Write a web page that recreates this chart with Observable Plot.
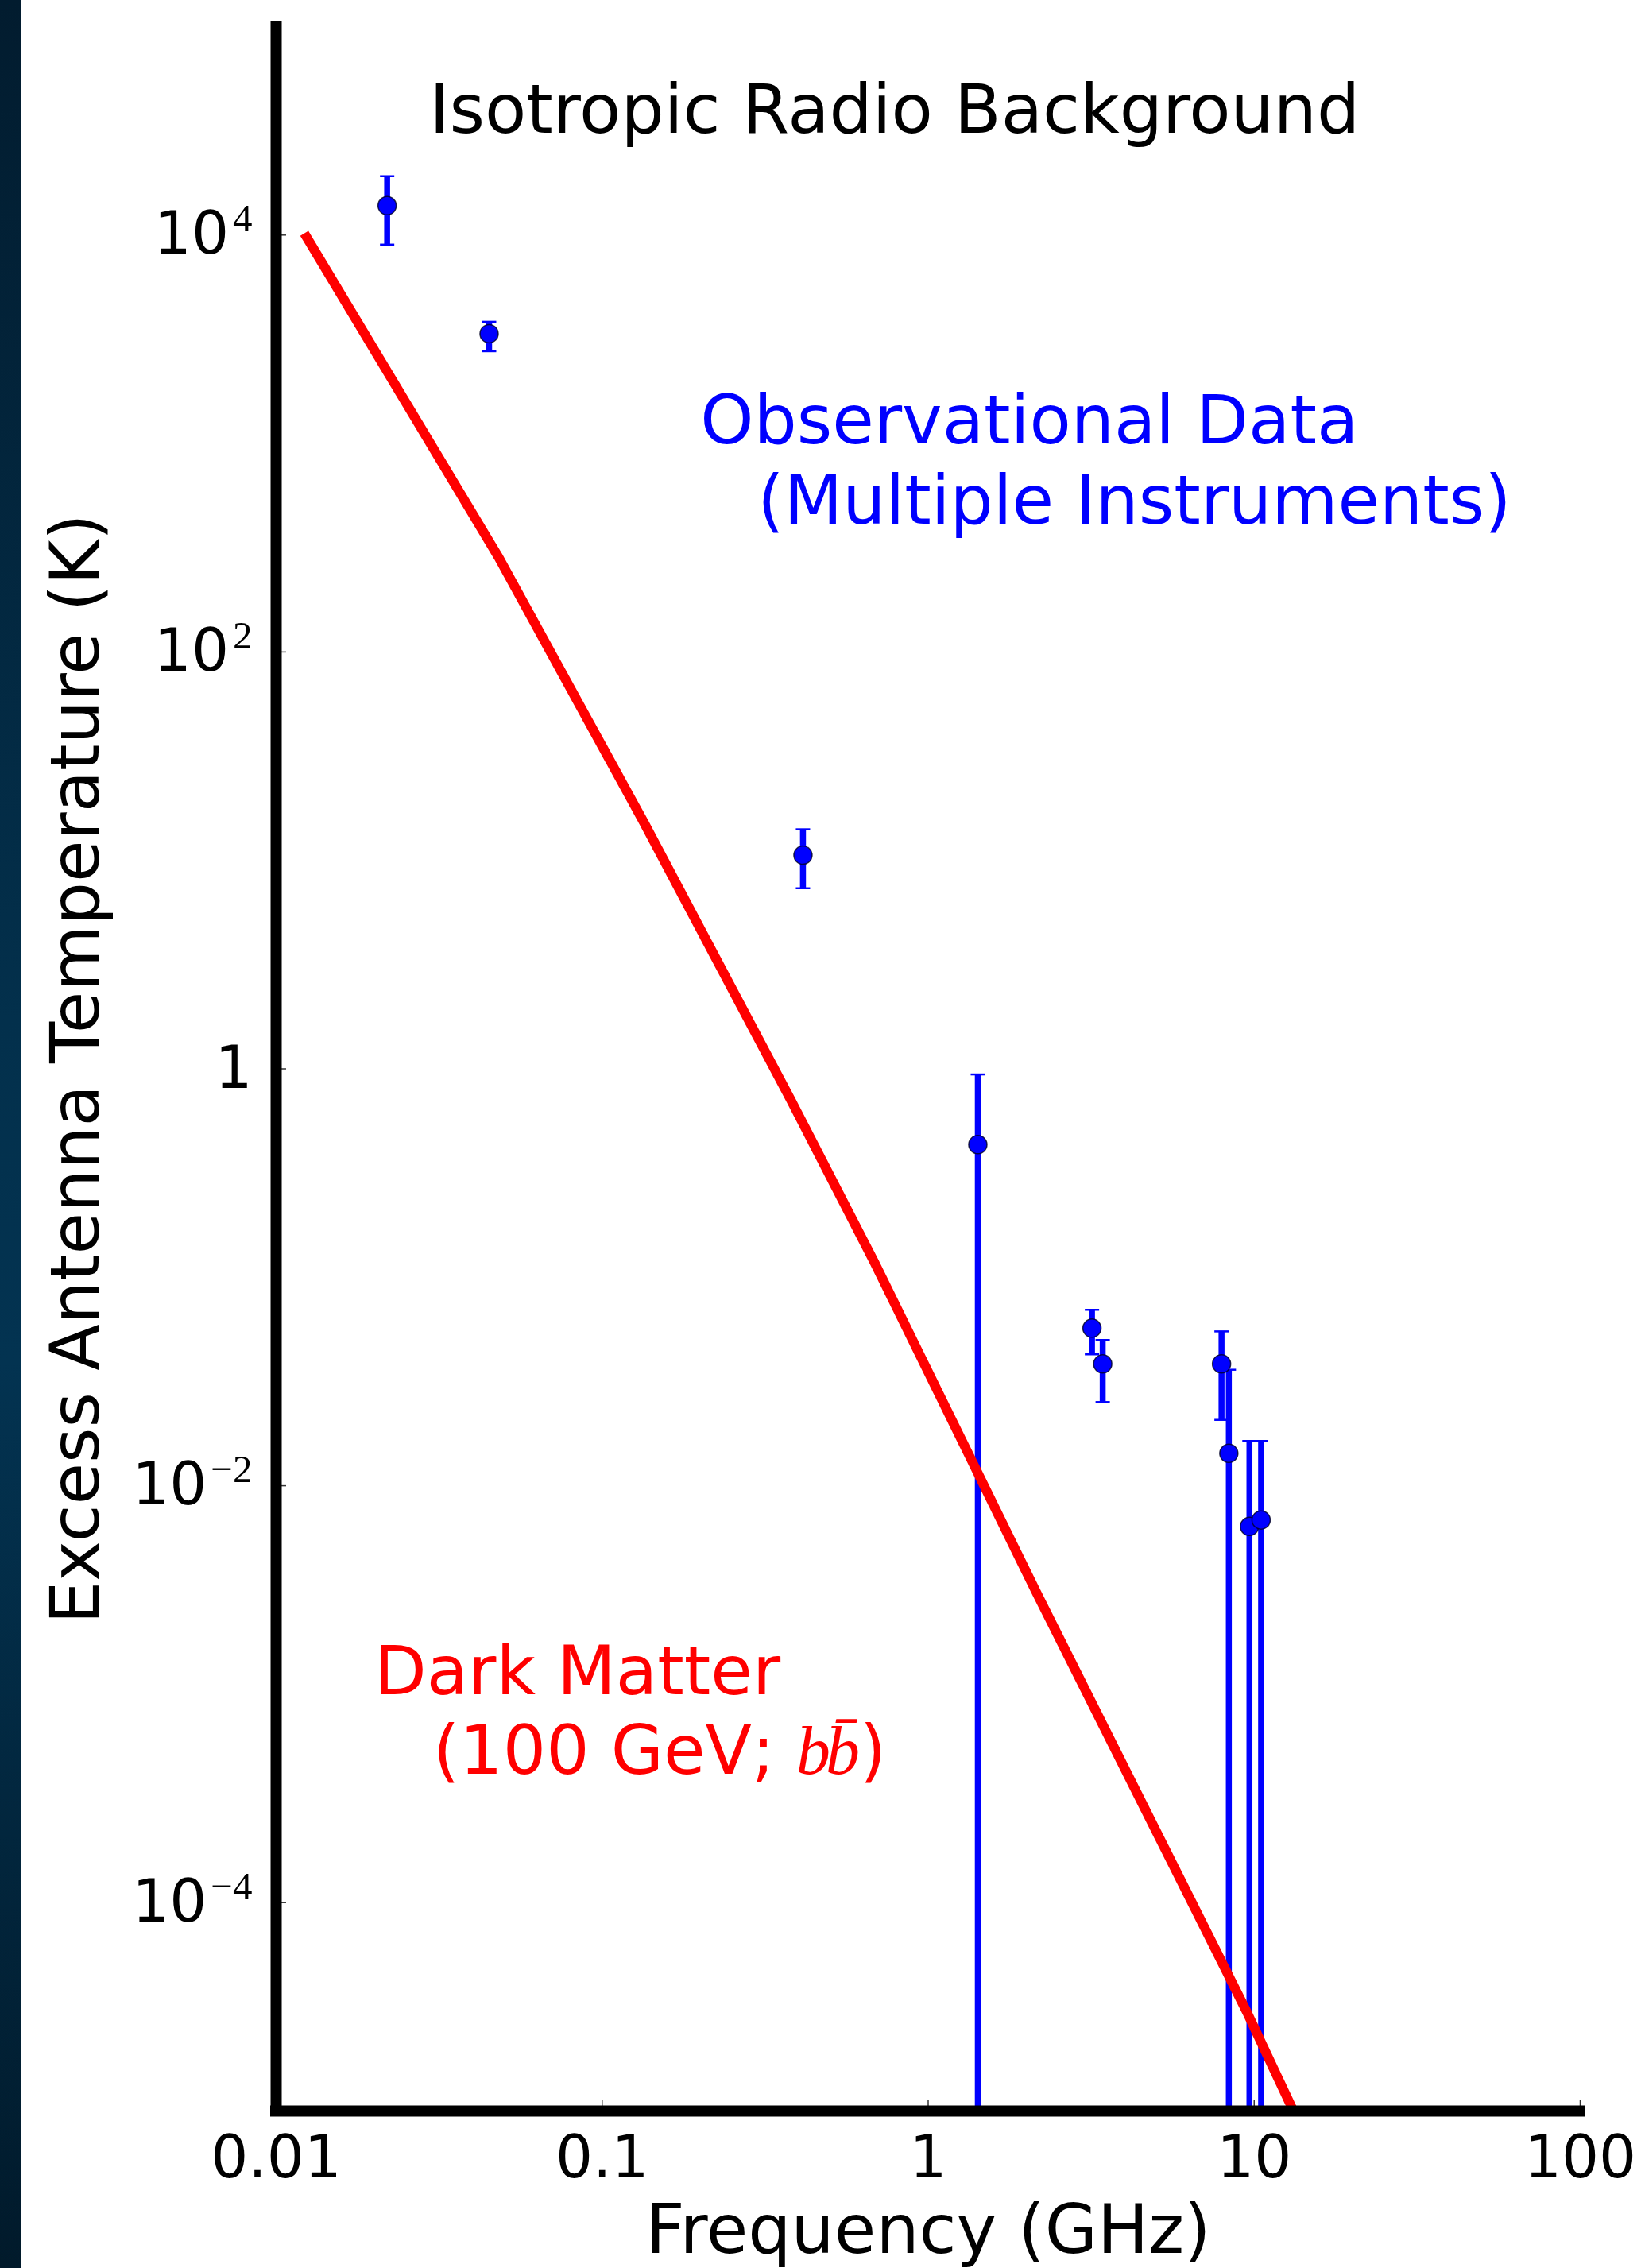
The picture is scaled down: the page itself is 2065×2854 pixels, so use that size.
<!DOCTYPE html>
<html>
<head>
<meta charset="utf-8">
<script src="https://cdn.jsdelivr.net/npm/d3@7"></script>
<script src="https://cdn.jsdelivr.net/npm/@observablehq/plot@0.6"></script>
<style>
  html, body { margin: 0; padding: 0; background: #ffffff; }
  #wrap { position: relative; width: 2065px; height: 2854px; overflow: hidden; background: #ffffff; }
  #chart { position: absolute; left: 0; top: 0; }
  #strip { position: absolute; left: 0; top: 0; width: 27px; height: 2854px;
    background: linear-gradient(180deg, #021c2f 0%, #03304c 45%, #033351 60%, #011a2b 100%); }
</style>
</head>
<body>
<div id="wrap">
  <div id="chart"></div>
  <div id="strip"></div>
</div>
<script>
// ---- Observational data (frequency in GHz, excess antenna temperature in K)
const obsFreq = [0.0219, 0.0450, 0.413, 1.42, 3.18, 3.43, 7.94, 8.36, 9.67, 10.5];
const obsTemp = [13840, 3363, 10.6, 0.433, 0.0570, 0.0384, 0.0384, 0.0143, 0.00638, 0.00685];
const obsHigh = [19160, 3837, 14.1, 0.94, 0.0698, 0.0500, 0.0550, 0.0360, 0.0164, 0.0164];
const obsLow  = [9000, 2772, 7.35, 1e-7, 0.0427, 0.0252, 0.0207, 1e-7, 1e-7, 1e-7];

// ---- Dark matter curve (100 GeV, b b-bar)
const dmFreq = [0.0122, 0.0481, 0.134, 0.380, 0.684, 1.42, 2.14, 9.51, 13.2];
const dmTemp = [10200, 285, 15.3, 0.704, 0.118, 0.0115, 0.00311, 2.97e-5, 1e-5];

// ---- Axes
const xTicks = [0.01, 0.1, 1, 10, 100];
const xTickLabels = ["0.01", "0.1", "1", "10", "100"];
const yTicks = [1e4, 1e2, 1, 1e-2, 1e-4];
const yTickLabels = ["10^4", "10^2", "1", "10^-2", "10^-4"];
const xLabel = "Frequency (GHz)";
const yLabel = "Excess Antenna Temperature (K)";

// ---- Annotations (anchored in data coordinates)
const titleText = "Isotropic Radio Background";
const obsNote = ["Observational Data", "(Multiple Instruments)"];
const dmNote = ["Dark Matter", "(100 GeV; bb)"];
const noteFreq = {title: 0.0295, obs: 0.2, dm: 0.02};
const noteTemp = {title: 3.1e4, obs: 1e3, dm: 1e-3};

const obs = obsFreq.map((f, i) => ({freq: f, T: obsTemp[i], hi: obsHigh[i], lo: obsLow[i]}));
const caps = obs.flatMap(d => [{freq: d.freq, T: d.hi}, {freq: d.freq, T: d.lo}]);
const dm = dmFreq.map((f, i) => ({freq: f, T: dmTemp[i]}));

const capSymbol = {
  draw(context, size) {
    const w = Math.sqrt(size / Math.PI);
    context.moveTo(-w, 0);
    context.lineTo(w, 0);
  }
};

const FS = 85.5;

const chart = Plot.plot({
  width: 2065,
  height: 2854,
  marginLeft: 347,
  marginRight: 77,
  marginTop: 33,
  marginBottom: 198,
  style: {fontFamily: "'DejaVu Sans', sans-serif", fontSize: "74px", color: "black", background: "transparent"},
  x: {type: "log", domain: [0.01, 100]},
  y: {type: "log", domain: [1e-5, 1e5]},
  marks: [
    Plot.axisX({ticks: xTicks, tickFormat: d => xTickLabels[xTicks.indexOf(d)], tickSize: -13, tickPadding: 44,
      fontSize: 74, label: null, strokeWidth: 1.5, stroke: "#333"}),
    Plot.axisY({ticks: yTicks, tickFormat: d => yTickLabels[yTicks.indexOf(d)], tickSize: -13, tickPadding: 43,
      fontSize: 74, label: null, strokeWidth: 1.5, stroke: "#333"}),
    // error bars
    Plot.ruleX(obs, {x: "freq", y1: "lo", y2: "hi", stroke: "#0000ff", strokeWidth: 7.5, clip: true}),
    Plot.dot(caps, {x: "freq", y: "T", symbol: capSymbol, r: 9, fill: "none", stroke: "#0000ff", strokeWidth: 2.5, clip: true}),
    // data points
    Plot.dot(obs, {x: "freq", y: "T", r: 11.5, fill: "#0000ff", stroke: "#000022", strokeWidth: 1.5, strokeOpacity: 0.8}),
    // dark matter curve
    Plot.line(dm, {x: "freq", y: "T", stroke: "#ff0000", strokeWidth: 12, strokeLinecap: "butt", strokeLinejoin: "round", clip: true}),
    // axis spines
    Plot.ruleX([0.01], {stroke: "black", strokeWidth: 14, strokeLinecap: "square"}),
    Plot.ruleY([1e-5], {stroke: "black", strokeWidth: 14, strokeLinecap: "square"}),
    // axis labels
    Plot.text([xLabel], {frameAnchor: "bottom", dy: 178, lineAnchor: "bottom", textAnchor: "middle", fontSize: FS, fill: "black"}),
    Plot.text([yLabel], {frameAnchor: "left", rotate: -90, dx: -224, lineAnchor: "bottom", textAnchor: "middle", fontSize: FS, fill: "black"}),
    // annotations
    Plot.text([titleText], {x: [noteFreq.title], y: [noteTemp.title], text: d => d, textAnchor: "start", lineAnchor: "bottom", fontSize: FS, fill: "black"}),
    Plot.text([obsNote[0]], {x: [noteFreq.obs], y: [noteTemp.obs], text: d => d, textAnchor: "start", lineAnchor: "bottom", fontSize: FS, fill: "#0000ff"}),
    Plot.text([obsNote[1]], {x: [noteFreq.obs], y: [noteTemp.obs], text: d => d, textAnchor: "start", lineAnchor: "bottom", dx: 72, dy: 101, fontSize: FS, fill: "#0000ff"}),
    Plot.text([dmNote[0]], {x: [noteFreq.dm], y: [noteTemp.dm], text: d => d, textAnchor: "start", lineAnchor: "bottom", fontSize: FS, fill: "#ff0000"}),
    Plot.text([dmNote[1]], {x: [noteFreq.dm], y: [noteTemp.dm], text: d => d, textAnchor: "start", lineAnchor: "bottom", dx: 74, dy: 100, fontSize: FS, fill: "#ff0000"})
  ]
});

document.getElementById("chart").appendChild(chart);

// superscripts on the y tick labels
d3.select(chart).selectAll("text").filter(function () { return this.textContent.includes("^"); })
  .each(function () {
    const [base, exp] = this.textContent.split("^");
    const s = d3.select(this);
    s.text(base);
    s.append("tspan")
      .attr("dy", -28)
      .attr("dx", 5)
      .attr("font-family", "'Liberation Serif', 'DejaVu Serif', serif")
      .attr("font-size", 49)
      .text(exp.replace("-", "\u2212"));
  });

// math italic b b-bar
d3.select(chart).selectAll("text").filter(function () { return this.textContent.includes("GeV"); })
  .each(function () {
    const s = d3.select(this);
    s.text("(100 GeV; ");
    s.append("tspan").attr("font-family", "'Liberation Serif', serif").attr("font-style", "italic")
      .attr("font-size", 86).attr("letter-spacing", -6).text("b");
    s.append("tspan").attr("font-family", "'Liberation Serif', serif").attr("font-style", "italic")
      .attr("font-size", 86).attr("letter-spacing", -6).text("b\u0304");
    s.append("tspan").attr("dx", 6).text(")");
  });
</script>
</body>
</html>
